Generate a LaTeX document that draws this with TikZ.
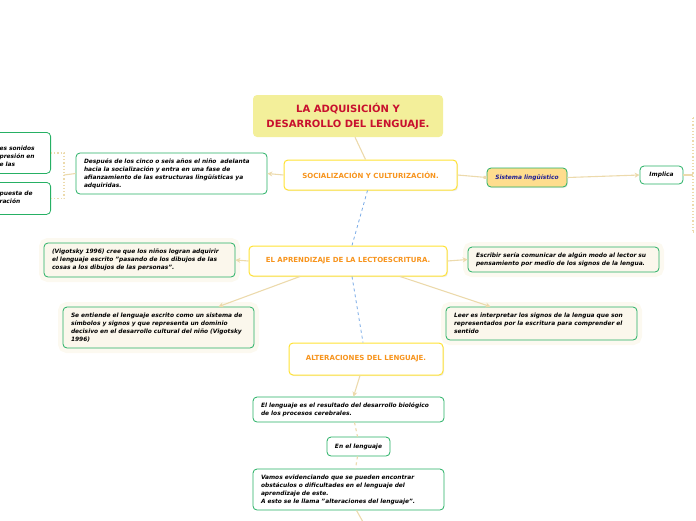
\documentclass[tikz,border=0pt]{standalone}
\usepackage{fontspec}
\setmainfont{DejaVu Sans}
\usetikzlibrary{arrows.meta,positioning,shadows}
\definecolor{titlefill}{RGB}{243,239,154}
\definecolor{titletext}{RGB}{200,16,46}
\definecolor{mainborder}{RGB}{255,226,51}
\definecolor{maintext}{RGB}{247,148,29}
\definecolor{leafborder}{RGB}{38,176,100}
\definecolor{creamfill}{RGB}{251,247,236}
\definecolor{halofill}{RGB}{252,249,240}
\definecolor{linktan}{RGB}{236,218,172}
\definecolor{sysfill}{RGB}{254,221,142}
\definecolor{systext}{RGB}{30,30,150}
\definecolor{dashblue}{RGB}{120,170,230}

\begin{document}
\begin{tikzpicture}[
    x=1pt, y=-1pt,
    titlebox/.style={fill=titlefill, rounded corners=4pt, align=center, text=titletext,
        font=\fontsize{10}{15}\selectfont\bfseries, minimum width=190pt, minimum height=42pt},
    mainbox/.style={draw=mainborder, line width=1pt, fill=white, rounded corners=4pt,
        text=maintext, font=\fontsize{7}{8}\selectfont\bfseries, minimum height=30pt,
        drop shadow={opacity=0.15, shadow xshift=1pt, shadow yshift=-1.2pt}},
    leaf/.style={draw=leafborder, line width=0.8pt, fill=white, rounded corners=4pt,
        align=left, inner xsep=8pt, inner ysep=0pt, text width=175pt,
        font=\fontsize{5.9}{8}\selectfont\bfseries\itshape},
    creambox/.style={leaf, fill=creamfill, preaction={draw=halofill, line width=10pt}},
    small/.style={leaf, text width=, align=center, inner xsep=3pt},
    sysbox/.style={small, fill=sysfill, text=systext,
        drop shadow={opacity=0.15, shadow xshift=1pt, shadow yshift=-1pt}},
    link/.style={draw=linktan, line width=1.1pt, -{Stealth[length=5pt,width=5pt]}},
    plain/.style={draw=linktan, line width=1.1pt},
    tandash/.style={draw=linktan, line width=1.1pt, dashed},
    bluedash/.style={draw=dashblue, line width=0.8pt, dashed},
    bracket/.style={draw=linktan, line width=1.2pt, dotted}
]
\useasboundingbox (0,0) rectangle (696,520);
\clip (0,0) rectangle (696,520);

% Title
\node[titlebox] (title) at (348,116) {LA ADQUISICIÓN Y\\DESARROLLO DEL LENGUAJE.};

% Main topics
\node[mainbox, minimum width=173pt] (soc) at (370.5,175) {SOCIALIZACIÓN Y CULTURIZACIÓN.};
\node[mainbox, minimum width=198pt] (lect) at (348,261) {EL APRENDIZAJE DE LA LECTOESCRITURA.};
\node[mainbox, minimum width=154pt, minimum height=32pt] (alt) at (366,359) {ALTERACIONES DEL LENGUAJE.};

% Socializacion branch
\node[leaf, minimum height=41pt] (despues) at (171.5,173.5) {
    Después de los cinco o seis años el niño \ adelanta\\
    hacia la socialización y entra en una fase de\\
    afianzamiento de las estructuras lingüísticas ya\\
    adquiridas.
};
\node[leaf, text width=43pt, minimum height=41pt, anchor=north east, text depth=10pt] (sonidos) at (51,132) {
    es sonidos\\presión en\\e las
};
\node[leaf, text width=43pt, minimum height=32pt, anchor=north east, text depth=10pt] (respuesta) at (51,182) {
    puesta de\\ración
};
\node[sysbox, minimum width=80pt, minimum height=19pt] (sistema) at (527,177.5) {Sistema lingüístico};
\node[small, minimum width=43pt, minimum height=18pt] (implica) at (661.5,175) {Implica};

% Lectoescritura branch
\node[creambox, minimum height=34pt] (vigotsky) at (139.5,260) {
    (Vigotsky 1996) cree que los niños logran adquirir\\
    el lenguaje escrito "pasando de los dibujos de las\\
    cosas a los dibujos de las personas".
};
\node[creambox, minimum height=25pt] (escribir) at (563.5,259.5) {
    Escribir sería comunicar de algún modo al lector su\\
    pensamiento por medio de los signos de la lengua.
};
\node[creambox, minimum height=41pt] (entiende) at (158.5,327.5) {
    Se entiende el lenguaje escrito como un sistema de\\
    símbolos y signos y que representa un dominio\\
    decisivo en el desarrollo cultural del niño (Vigotsky\\
    1996)
};
\node[creambox, minimum height=33pt] (leer) at (541.5,323.5) {
    Leer es interpretar los signos de la lengua que son\\
    representados por la escritura para comprender el\\
    sentido
};

% Alteraciones branch
\node[leaf, minimum height=25pt] (biologico) at (348.5,409.5) {
    El lenguaje es el resultado del desarrollo biológico\\
    de los procesos cerebrales.
};
\node[small, minimum width=63pt, minimum height=19pt] (enel) at (358.5,446.5) {En el lenguaje};
\node[leaf, minimum height=41pt] (vamos) at (348.5,489.5) {
    Vamos evidenciando que se pueden encontrar\\
    obstáculos o dificultades en el lenguaje del\\
    aprendizaje de este.\\
    A esto se le llama "alteraciones del lenguaje".
};

% Bracket points
\coordinate (lbrack) at (64,175);
\coordinate (rbrack) at (693,175);
\coordinate (vamosend) at (363,522);

% Connectors
\draw[plain] ([xshift=7pt]title.south) -- ([xshift=-5pt]soc.north);
\draw[link] (soc.west) -- (despues.east);
\draw[plain] (despues.west) -- (lbrack);
\draw[bracket] (sonidos.east) -- ++(13,0) |- (respuesta.east);
\draw[plain, -{Square[length=3pt,width=3pt]}] (soc.east) -- (sistema.west);
\draw[link] (sistema.east) -- (implica.west);
\draw[plain] (implica.east) -- (rbrack);
\draw[bracket] (rbrack |- 0,118) -- ++(0,114);
\draw[bracket] (rbrack |- 0,118) -- ++(10,0);
\draw[bracket] (rbrack |- 0,232) -- ++(10,0);

\draw[bluedash] ([xshift=-3pt]soc.south) -- ([xshift=4pt]lect.north);
\draw[bluedash] ([xshift=4pt]lect.south) -- ([xshift=-3pt]alt.north);

\draw[link] (lect.west) -- (vigotsky.east);
\draw[link] (lect.east) -- (escribir.west);
\draw[link] ([xshift=-48pt]lect.south) -- ([xshift=60pt]entiende.north);
\draw[link] ([xshift=52pt]lect.south) -- ([xshift=-51pt]leer.north);

\draw[link] ([xshift=-6pt]alt.south) -- ([xshift=5pt]biologico.north);
\draw[tandash] ([xshift=6pt]biologico.south) -- ([xshift=-1pt]enel.north);
\draw[tandash] ([xshift=-1pt]enel.south) -- ([xshift=7pt]vamos.north);
\draw[plain] ([xshift=8pt]vamos.south) -- (vamosend);

\end{tikzpicture}
\end{document}
